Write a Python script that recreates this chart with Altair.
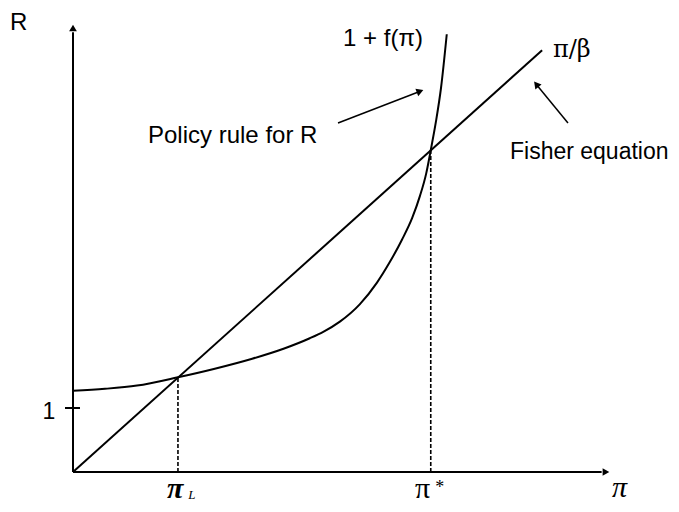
import altair as alt
import pandas as pd

# ---- data ----
# Policy rule 1 + f(pi)
curve_pi = [0.0, 0.5, 1.0, 1.64, 2.2, 2.8, 3.3, 3.7, 3.91, 4.17, 4.48, 4.75,
            4.95, 5.14, 5.30, 5.42, 5.52, 5.59, 5.67, 5.75, 5.84]
curve_R = [1.27, 1.30, 1.35, 1.48, 1.61, 1.77, 1.93, 2.09, 2.19, 2.35, 2.62, 2.96,
           3.28, 3.63, 3.97, 4.31, 4.67, 5.03, 5.47, 6.00, 6.84]
# Fisher equation R = pi / beta
fisher_pi = [0.0, 7.33]
fisher_R = [0.0, 6.59]
# intersections
pi_L, R_L = 1.64, 1.48
pi_star, R_star = 5.59, 5.03
tick_R = 1.0
# axis extents
x_axis_end = 8.31
y_axis_end = 6.92

X = alt.Scale(domain=[-1.015625, 9.34375], nice=False, zero=False)
Y = alt.Scale(domain=[-0.375, 7.25], nice=False, zero=False)


def xq(f="x"):
    return alt.X(f"{f}:Q", scale=X, axis=None)


def yq(f="y"):
    return alt.Y(f"{f}:Q", scale=Y, axis=None)


# axes + tick
axes_df = pd.DataFrame({
    "x": [0, 0, -0.125], "y": [0, 0, tick_R],
    "x2": [0, x_axis_end - 0.05, 0.109], "y2": [y_axis_end - 0.05, 0, tick_R],
})
axes = alt.Chart(axes_df).mark_rule(color="black", strokeWidth=2).encode(
    x=xq(), y=yq(), x2="x2:Q", y2="y2:Q")

# arrowheads
heads_df = pd.DataFrame({
    "x": [0, x_axis_end, 5.406, 7.25],
    "y": [y_axis_end, 0, 5.942, 6.044],
    "angle": [0, 90, 69, 321],
    "s": [60, 60, 64, 64],
})
heads = alt.Chart(heads_df).mark_point(shape="triangle", filled=True, color="black",
                                       opacity=1).encode(
    x=xq(), y=yq(), angle=alt.Angle("angle:Q", scale=None),
    size=alt.Size("s:Q", scale=None))

# Fisher line
fisher = alt.Chart(pd.DataFrame({"x": fisher_pi, "y": fisher_R})).mark_line(
    color="black", strokeWidth=2).encode(x=xq(), y=yq())

# policy curve
curve = alt.Chart(pd.DataFrame({"x": curve_pi, "y": curve_R})).mark_line(
    color="black", strokeWidth=2, interpolate="monotone").encode(x=xq(), y=yq())

# dashed drop lines
drop_df = pd.DataFrame({"x": [pi_L, pi_star], "y": [0, 0], "y2": [R_L, R_star]})
drops = alt.Chart(drop_df).mark_rule(color="black", strokeWidth=1.6,
                                     strokeDash=[4, 2]).encode(
    x=xq(), y=yq(), y2="y2:Q")

# annotation arrow shafts
shaft_df = pd.DataFrame({
    "x": [4.141, 7.734], "y": [5.453, 5.453],
    "x2": [5.406, 7.25], "y2": [5.942, 6.044],
})
shafts = alt.Chart(shaft_df).mark_rule(color="black", strokeWidth=1.5).encode(
    x=xq(), y=yq(), x2="x2:Q", y2="y2:Q")

# sans-serif labels
sans_df = pd.DataFrame({
    "x": [-0.984, 1.172, 4.219],
    "y": [6.906, 5.141, 6.656],
    "t": ["R", "Policy rule for R", "1 + f(π)"],
})
sans = alt.Chart(sans_df).mark_text(font="Liberation Sans", fontSize=24, align="left",
                                    baseline="alphabetic", color="black").encode(
    x=xq(), y=yq(), text="t:N")

fisher_lbl = alt.Chart(pd.DataFrame({"x": [6.828], "y": [4.891],
                                     "t": ["Fisher equation"]})).mark_text(
    font="Liberation Sans", fontSize=23, align="left", baseline="alphabetic",
    color="black").encode(x=xq(), y=yq(), text="t:N")

one = alt.Chart(pd.DataFrame({"x": [-0.375], "y": [0.828], "t": ["1"]})).mark_text(
    font="Liberation Sans", fontSize=23, align="center", baseline="alphabetic",
    color="black").encode(x=xq(), y=yq(), text="t:N")

# serif labels
beta_lbl = alt.Chart(pd.DataFrame({"x": [7.5], "y": [6.484], "t": ["π/β"]})).mark_text(
    font="DejaVu Serif", fontSize=24, align="left", baseline="alphabetic",
    color="black").encode(x=xq(), y=yq(), text="t:N")

piL = alt.Chart(pd.DataFrame({"x": [1.469], "y": [-0.406], "t": ["π"]})).mark_text(
    font="Liberation Serif", fontSize=30, fontStyle="italic", fontWeight="bold",
    align="left", baseline="alphabetic", color="black").encode(x=xq(), y=yq(), text="t:N")
Lsub = alt.Chart(pd.DataFrame({"x": [1.80], "y": [-0.42], "t": ["L"]})).mark_text(
    font="Liberation Serif", fontSize=13, fontStyle="italic",
    align="left", baseline="alphabetic", color="black").encode(x=xq(), y=yq(), text="t:N")

pis = alt.Chart(pd.DataFrame({"x": [5.344], "y": [-0.406], "t": ["π"]})).mark_text(
    font="Liberation Serif", fontSize=30, align="left", baseline="alphabetic",
    color="black").encode(x=xq(), y=yq(), text="t:N")
star = alt.Chart(pd.DataFrame({"x": [5.66], "y": [-0.33], "t": ["*"]})).mark_text(
    font="Liberation Serif", fontSize=18, align="left", baseline="alphabetic",
    color="black").encode(x=xq(), y=yq(), text="t:N")

pix = alt.Chart(pd.DataFrame({"x": [8.422], "y": [-0.39], "t": ["π"]})).mark_text(
    font="Liberation Serif", fontSize=30, fontStyle="italic", align="left",
    baseline="alphabetic", color="black").encode(x=xq(), y=yq(), text="t:N")

chart = alt.layer(axes, heads, fisher, curve, drops, shafts, sans, fisher_lbl, one,
                  beta_lbl, piL, Lsub, pis, star, pix).properties(
    width=663, height=488, autosize=alt.AutoSizeParams(type="none"),
    padding={"left": 0, "top": 0, "right": 0, "bottom": 8}
).configure_view(stroke=None)

chart.save("out.html", embed_options={"renderer": "svg", "actions": False})
